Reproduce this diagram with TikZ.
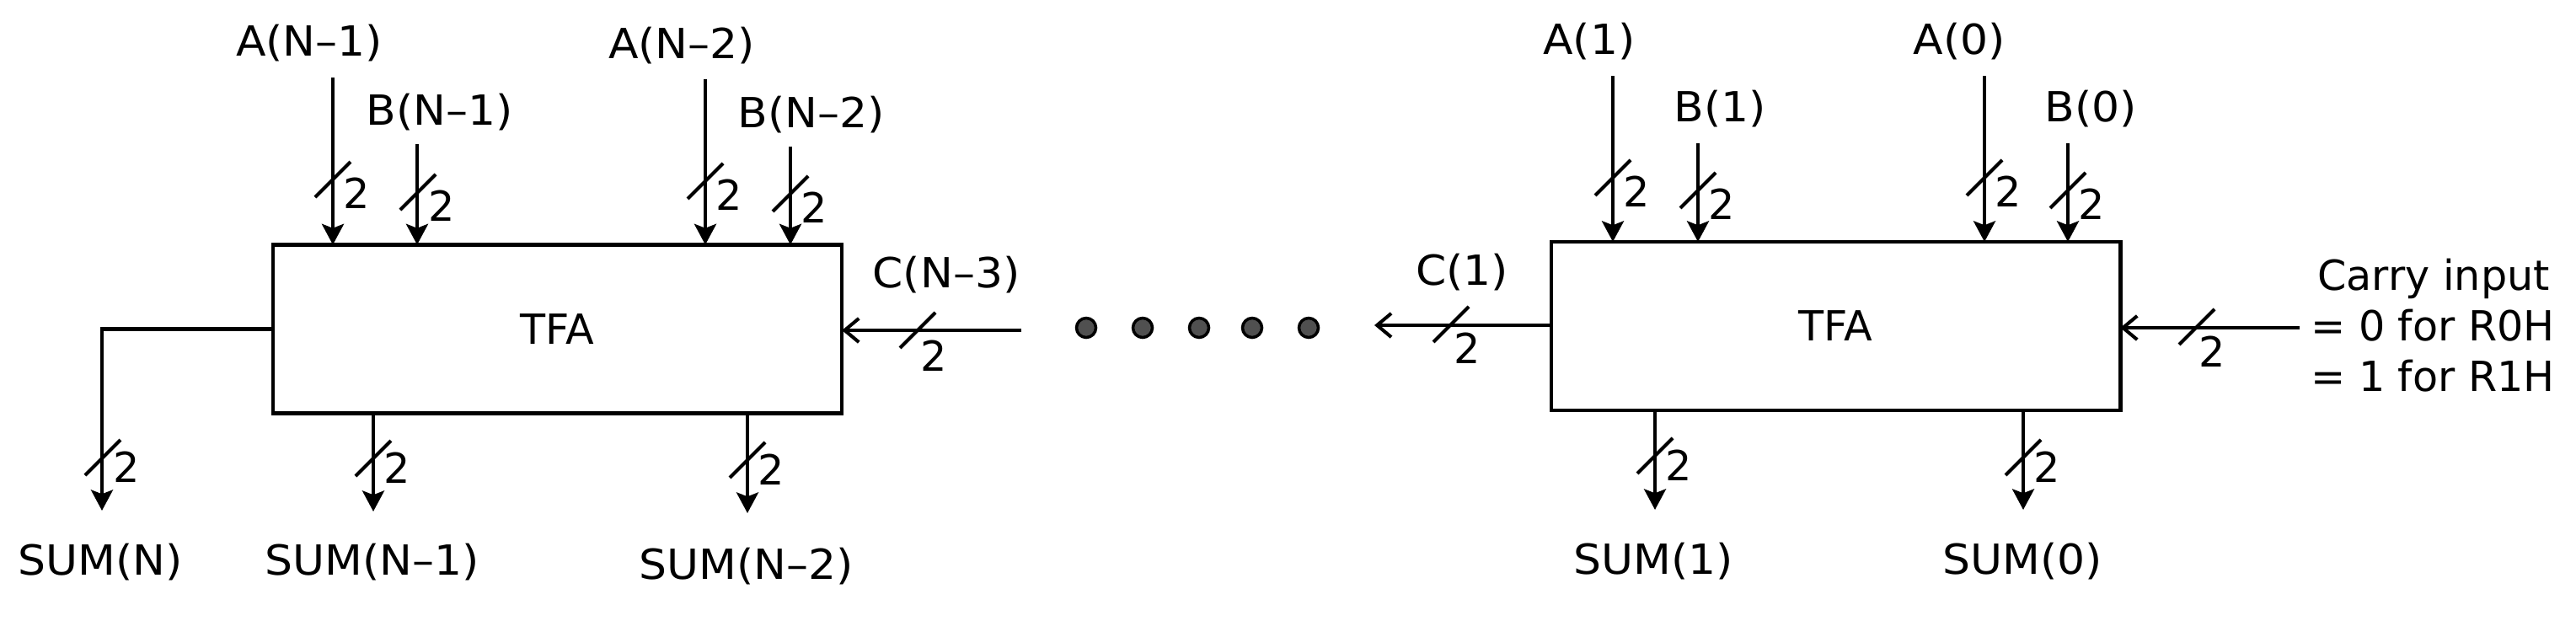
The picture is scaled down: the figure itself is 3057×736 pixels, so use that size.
\documentclass[tikz,border=0pt]{standalone}
\usepackage{fontspec}
\setmainfont{DejaVu Sans}
\newfontfamily\signalfont[FakeStretch=1.055]{DejaVu Sans}
\usetikzlibrary{arrows.meta}
\definecolor{dotgray}{RGB}{80,80,80}
\tikzset{
    adder/.style = {draw, line width=1.3pt, minimum width=6.75cm, minimum height=2cm, outer sep=0pt, font=\fontsize{14}{17}\selectfont},
    signal/.style = {inner sep=0pt, font=\fontsize{14}{17}\selectfont\signalfont},
    buswidth/.style = {inner sep=0pt, font=\fontsize{14}{17}\selectfont},
    busin/.style = {line width=1.15pt, -{Stealth[length=7pt,width=7.4pt,inset=1.4pt]}},
    carryin/.style = {line width=1.15pt, -{Straight Barb[length=4.8pt,width=8pt]}},
    dotnode/.style = {circle, draw, line width=1pt, fill=dotgray, inner sep=0pt, minimum size=0.23cm}
}
% slash across a bus, with its width beside it
\newcommand{\busmark}[3]{
    \coordinate (#1) at (#2);
    \draw[line width=1.15pt] (#1) +(-21,21) -- +(21,-21);
    \node[buswidth] (#1w) at ([shift={(#3)}]#1) {2};
}
\begin{document}
\begin{tikzpicture}[x=0.01cm, y=-0.01cm]
    \useasboundingbox (0,0) rectangle (3057,736);

    \node[adder] (tfaLeft) at (661.5,390.5) {TFA};
    \node[adder] (tfaRight) at (2178.5,387) {TFA};

    % labels
    \node[signal] (aNa) at (367,51) {A(N–1)};
    \node[signal] (bNa) at (522,133) {B(N–1)};
    \node[signal] (aNb) at (809,54) {A(N–2)};
    \node[signal] (bNb) at (963,136) {B(N–2)};
    \node[signal] (aOne) at (1886,49) {A(1)};
    \node[signal] (bOne) at (2041,129) {B(1)};
    \node[signal] (aZero) at (2325,49) {A(0)};
    \node[signal] (bZero) at (2481,129) {B(0)};
    \node[signal] (sumN) at (119,667) {SUM(N)};
    \node[signal] (sumNa) at (442,667) {SUM(N–1)};
    \node[signal] (sumNb) at (886,672) {SUM(N–2)};
    \node[signal] (sumOne) at (1962,666) {SUM(1)};
    \node[signal] (sumZero) at (2400,666) {SUM(0)};
    \node[signal] (cNc) at (1123,326) {C(N–3)};
    \node[signal] (cOne) at (1735,323) {C(1)};
    \node[inner sep=0pt, align=left, font=\fontsize{14}{17.1}\selectfont] (carry) at (2887,386) {\,Carry input\\= 0 for R0H\\= 1 for R1H};

    % free ends
    \coordinate (aNaTop) at (395,92);
    \coordinate (bNaTop) at (495,171);
    \coordinate (aNbTop) at (837,94);
    \coordinate (bNbTop) at (938,174);
    \coordinate (aOneTop) at (1914,90);
    \coordinate (bOneTop) at (2015,170);
    \coordinate (aZeroTop) at (2355,90);
    \coordinate (bZeroTop) at (2454,170);
    \coordinate (sumNEnd) at (121,606);
    \coordinate (sumNaEnd) at (443,607);
    \coordinate (sumNbEnd) at (887,609);
    \coordinate (sumOneEnd) at (1964,605);
    \coordinate (sumZeroEnd) at (2401,605);
    \coordinate (cNcStart) at (1212,392);
    \coordinate (cOneEnd) at (1631,386);
    \coordinate (carryStart) at (2729,389);

    % inputs
    \draw[busin] (aNaTop) -- (aNaTop |- tfaLeft.north);
    \draw[busin] (bNaTop) -- (bNaTop |- tfaLeft.north);
    \draw[busin] (aNbTop) -- (aNbTop |- tfaLeft.north);
    \draw[busin] (bNbTop) -- (bNbTop |- tfaLeft.north);
    \draw[busin] (aOneTop) -- (aOneTop |- tfaRight.north);
    \draw[busin] (bOneTop) -- (bOneTop |- tfaRight.north);
    \draw[busin] (aZeroTop) -- (aZeroTop |- tfaRight.north);
    \draw[busin] (bZeroTop) -- (bZeroTop |- tfaRight.north);

    % outputs
    \draw[busin] (tfaLeft.west) -- (tfaLeft.west -| sumNEnd) -- (sumNEnd);
    \draw[busin] (tfaLeft.south -| sumNaEnd) -- (sumNaEnd);
    \draw[busin] (tfaLeft.south -| sumNbEnd) -- (sumNbEnd);
    \draw[busin] (tfaRight.south -| sumOneEnd) -- (sumOneEnd);
    \draw[busin] (tfaRight.south -| sumZeroEnd) -- (sumZeroEnd);

    % carries
    \draw[carryin] (cNcStart) -- (cNcStart -| tfaLeft.east);
    \draw[carryin] (cOneEnd -| tfaRight.west) -- (cOneEnd);
    \draw[carryin] (carryStart) -- (carryStart -| tfaRight.east);

    % bus widths
    \busmark{mAa}{395,213}{28,16}
    \busmark{mBa}{496,228}{28,16}
    \busmark{mAb}{837,215}{28,16}
    \busmark{mBb}{938,230}{28,16}
    \busmark{mAc}{1914,211}{28,16}
    \busmark{mBc}{2015,226}{28,16}
    \busmark{mAd}{2355,211}{28,16}
    \busmark{mBd}{2454,226}{28,16}
    \busmark{mSa}{122,543}{28,11}
    \busmark{mSb}{443,544}{28,11}
    \busmark{mSc}{887,546}{28,11}
    \busmark{mSd}{1964,541}{28,11}
    \busmark{mSe}{2401,543}{28,11}
    \busmark{mCa}{1089,392}{19,30}
    \busmark{mCb}{1722,385}{19,28}
    \busmark{mCc}{2607,388}{18,29}

    % dots
    \node[dotnode] (dotA) at (1289,389) {};
    \node[dotnode] (dotB) at (1356,389) {};
    \node[dotnode] (dotC) at (1423,389) {};
    \node[dotnode] (dotD) at (1486,389) {};
    \node[dotnode] (dotE) at (1553,389) {};
\end{tikzpicture}
\end{document}
